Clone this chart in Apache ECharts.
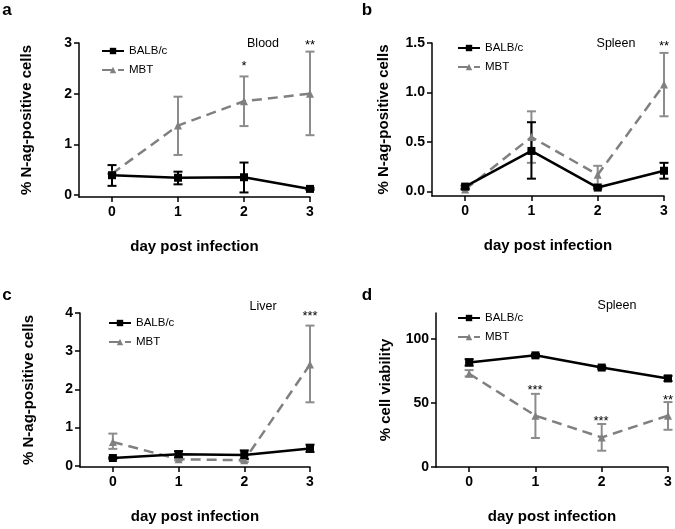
<!DOCTYPE html>
<html><head><meta charset="utf-8">
<script src="https://cdn.jsdelivr.net/npm/echarts@6/dist/echarts.min.js"></script>
<style>html,body{margin:0;padding:0;background:#fff}#c{width:675px;height:529px}</style>
</head><body><div id="c"></div>
<script>
const days = [0, 1, 2, 3];
const seriesNames = ['BALB/c', 'MBT'];
const xTickLabels = ['0', '1', '2', '3'];

// Panel a: Blood
const bloodBalbMean = [0.39, 0.34, 0.35, 0.12];
const bloodBalbLow  = [0.18, 0.21, 0.05, 0.10];
const bloodBalbHigh = [0.59, 0.46, 0.64, 0.14];
const bloodMbtMean  = [0.42, 1.37, 1.85, 2.00];
const bloodMbtLow   = [0.42, 0.79, 1.36, 1.18];
const bloodMbtHigh  = [0.42, 1.94, 2.34, 2.83];
const bloodYTicks = [0, 1, 2, 3];

// Panel b: Spleen
const spleenBalbMean = [0.05, 0.41, 0.04, 0.21];
const spleenBalbLow  = [0.03, 0.13, 0.03, 0.13];
const spleenBalbHigh = [0.06, 0.70, 0.05, 0.29];
const spleenMbtMean  = [0.02, 0.55, 0.17, 1.08];
const spleenMbtLow   = [0.02, 0.29, 0.07, 0.76];
const spleenMbtHigh  = [0.02, 0.81, 0.26, 1.40];
const spleenYTicks = [0, 0.5, 1.0, 1.5];

// Panel c: Liver
const liverBalbMean = [0.20, 0.30, 0.28, 0.45];
const liverBalbLow  = [0.18, 0.22, 0.17, 0.36];
const liverBalbHigh = [0.22, 0.38, 0.40, 0.55];
const liverMbtMean  = [0.62, 0.17, 0.14, 2.65];
const liverMbtLow   = [0.44, 0.14, 0.10, 1.66];
const liverMbtHigh  = [0.84, 0.20, 0.18, 3.67];
const liverYTicks = [0, 1, 2, 3, 4];

// Panel d: Spleen viability
const viaBalbMean = [81.5, 87.0, 77.5, 69.0];
const viaBalbLow  = [79.0, 86.0, 76.5, 67.0];
const viaBalbHigh = [84.0, 88.0, 78.5, 71.0];
const viaMbtMean  = [72.7, 40.0, 23.0, 40.0];
const viaMbtLow   = [70.6, 22.6, 12.7, 29.0];
const viaMbtHigh  = [75.5, 57.0, 33.5, 50.6];
const viaYTicks = [0, 50, 100];

const FONT = 'Liberation Sans, Arial, sans-serif';
const BLACK = '#000';
const GRAY = '#808080';
const GRAYBAR = '#8c8c8c';

const panels = [
  {grid:{left:79, top:43, width:231, height:154}, ymin:-0.04, ymax:3, yTicks:bloodYTicks, fmt:v=>String(v), yName:'% N-ag-positive cells', nameGap:45,
   balb:[bloodBalbMean,bloodBalbLow,bloodBalbHigh], mbt:[bloodMbtMean,bloodMbtLow,bloodMbtHigh], legend:{left:101, top:44}},
  {grid:{left:432, top:43, width:232, height:153}, ymin:-0.045, ymax:1.5, yTicks:spleenYTicks, fmt:v=>v.toFixed(1), yName:'% N-ag-positive cells', nameGap:41,
   balb:[spleenBalbMean,spleenBalbLow,spleenBalbHigh], mbt:[spleenMbtMean,spleenMbtLow,spleenMbtHigh], legend:{left:457, top:41}},
  {grid:{left:80, top:313, width:230, height:154}, ymin:-0.035, ymax:4, yTicks:liverYTicks, fmt:v=>String(v), yName:'% N-ag-positive cells', nameGap:44,
   balb:[liverBalbMean,liverBalbLow,liverBalbHigh], mbt:[liverMbtMean,liverMbtLow,liverMbtHigh], legend:{left:108, top:316}},
  {grid:{left:436, top:313, width:232, height:154}, ymin:0, ymax:120, yTicks:viaYTicks, fmt:v=>String(v), yName:'% cell viability', nameGap:43,
   balb:[viaBalbMean,viaBalbLow,viaBalbHigh], mbt:[viaMbtMean,viaMbtLow,viaMbtHigh], legend:{left:457, top:311}}
];

const grids = [], xAxes = [], yAxes = [], series = [], legends = [];

function errSeries(idx, low, high, color, name) {
  return {
    type: 'custom', name: name, xAxisIndex: idx, yAxisIndex: idx, z: 3,
    data: days.map((d, i) => [d, low[i], high[i]]),
    encode: {x: 0, y: [1, 2]},
    itemStyle: {color: color},
    silent: true,
    renderItem: function (params, api) {
      const x = api.value(0);
      const lo = api.coord([x, api.value(1)]);
      const hi = api.coord([x, api.value(2)]);
      const hw = 4.5;
      const st = {stroke: color, lineWidth: 2};
      return {type: 'group', children: [
        {type: 'line', shape: {x1: lo[0], y1: lo[1], x2: hi[0], y2: hi[1]}, style: st},
        {type: 'line', shape: {x1: lo[0]-hw, y1: lo[1], x2: lo[0]+hw, y2: lo[1]}, style: st},
        {type: 'line', shape: {x1: hi[0]-hw, y1: hi[1], x2: hi[0]+hw, y2: hi[1]}, style: st}
      ]};
    }
  };
}

panels.forEach((p, i) => {
  grids.push(Object.assign({containLabel: false}, p.grid));
  xAxes.push({
    type: 'value', gridIndex: i, min: -0.5, max: 3,
    name: 'day post infection', nameLocation: 'middle', nameGap: 42,
    nameTextStyle: {fontFamily: FONT, fontSize: 15, fontWeight: 'bold', color: BLACK},
    axisLine: {onZero: false, lineStyle: {color: BLACK, width: 1.5}},
    axisTick: {show: true, length: 5, lineStyle: {color: BLACK, width: 1.5}, customValues: days},
    axisLabel: {customValues: days, formatter: v => xTickLabels[days.indexOf(v)], margin: 8,
      fontFamily: FONT, fontSize: 14, fontWeight: 'bold', color: BLACK},
    splitLine: {show: false}
  });
  yAxes.push({
    type: 'value', gridIndex: i, min: p.ymin, max: p.ymax,
    name: p.yName, nameLocation: 'middle', nameGap: p.nameGap, nameRotate: 90,
    nameTextStyle: {fontFamily: FONT, fontSize: 15, fontWeight: 'bold', color: BLACK},
    axisLine: {show: true, onZero: false, lineStyle: {color: BLACK, width: 1.5}},
    axisTick: {show: true, length: 5, lineStyle: {color: BLACK, width: 1.5}, customValues: p.yTicks},
    axisLabel: {customValues: p.yTicks, formatter: p.fmt, margin: 7,
      fontFamily: FONT, fontSize: 14, fontWeight: 'bold', color: BLACK},
    splitLine: {show: false}
  });
  series.push(errSeries(i, p.mbt[1], p.mbt[2], GRAYBAR, 'MBT error'));
  series.push({
    type: 'line', name: 'MBT', xAxisIndex: i, yAxisIndex: i, z: 4,
    data: days.map((d, k) => [d, p.mbt[0][k]]),
    symbol: 'triangle', symbolSize: 8, showAllSymbol: true,
    lineStyle: {color: GRAY, width: 2.5, type: [10, 6]},
    itemStyle: {color: GRAY}, emphasis: {disabled: true}
  });
  series.push(errSeries(i, p.balb[1], p.balb[2], BLACK, 'BALB/c error'));
  series.push({
    type: 'line', name: 'BALB/c', xAxisIndex: i, yAxisIndex: i, z: 5,
    data: days.map((d, k) => [d, p.balb[0][k]]),
    symbol: 'rect', symbolSize: 8, showAllSymbol: true,
    lineStyle: {color: BLACK, width: 2.5},
    itemStyle: {color: BLACK}, emphasis: {disabled: true}
  });
  legends.push({
    data: seriesNames, orient: 'vertical', left: p.legend.left, top: p.legend.top,
    itemWidth: 22, itemHeight: 8, itemGap: 5, selectedMode: false, padding: 0,
    textStyle: {fontFamily: FONT, fontSize: 11.5, color: BLACK, lineHeight: 14}
  });
});

const txt = (x, y, s, size, bold) => ({type: 'text', x: x, y: y, style: {
  text: s, fontFamily: FONT, fontSize: size, fontWeight: bold ? 'bold' : 'normal', fill: BLACK,
  align: 'center', verticalAlign: 'middle'}});

const graphic = [
  txt(7, 10, 'a', 17, true), txt(367, 10, 'b', 17, true),
  txt(7, 295, 'c', 17, true), txt(367, 295, 'd', 17, true),
  txt(263, 44, 'Blood', 12.5), txt(244, 66, '*', 13), txt(310, 45, '**', 13),
  txt(616, 44, 'Spleen', 12.5), txt(664, 46, '**', 13),
  txt(263, 307, 'Liver', 12.5), txt(310, 316, '***', 13),
  txt(617, 306, 'Spleen', 12.5), txt(535, 390, '***', 13), txt(601, 421, '***', 13), txt(668, 400, '**', 13)
];

const chart = echarts.init(document.getElementById('c'), null, {renderer: 'canvas'});
chart.setOption({
  animation: false, backgroundColor: '#fff',
  grid: grids, xAxis: xAxes, yAxis: yAxes, series: series, legend: legends, graphic: graphic
});
</script></body></html>
